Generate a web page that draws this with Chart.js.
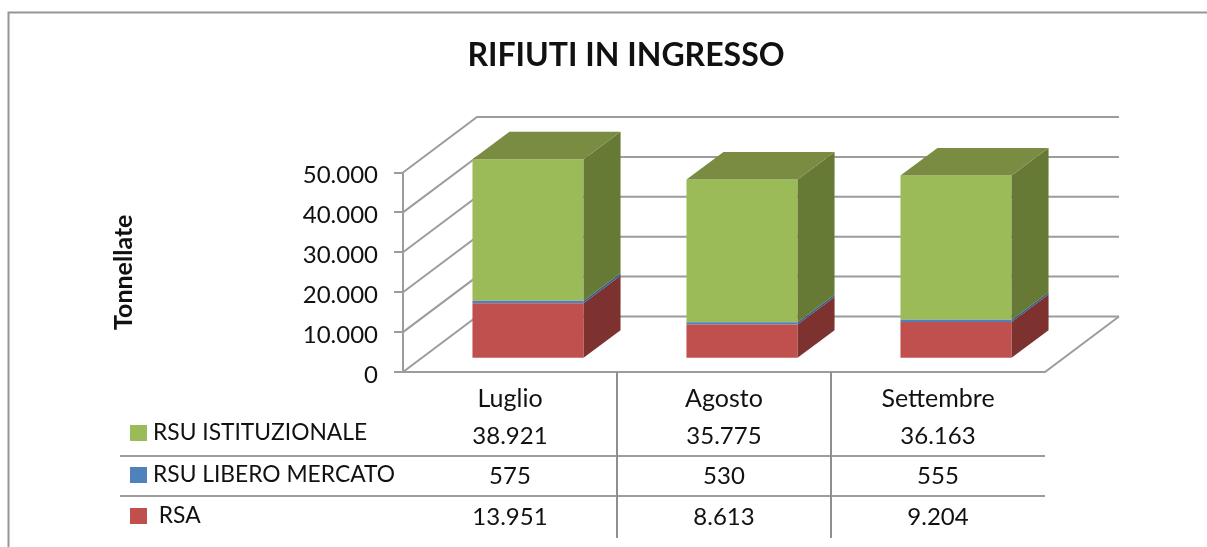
<!DOCTYPE html>
<html>
<head>
<meta charset="utf-8">
<title>Rifiuti in ingresso</title>
<style>
    html, body { margin: 0; padding: 0; background: #fff; overflow: hidden; }
    canvas { display: block; }
</style>
<script src="https://cdn.jsdelivr.net/npm/chart.js@4/dist/chart.umd.min.js"></script>
</head>
<body>
<canvas id="chart" width="1207" height="547"></canvas>
<script>
const categories = ['Luglio', 'Agosto', 'Settembre'];
const rsa = [13951, 8613, 9204];
const rsuLibero = [575, 530, 555];
const rsuIstituzionale = [38921, 35775, 36163];

const LINE = '#9c9c9c';
const TEXT = '#111';
const FONT = 'Lato';

// floor depth of the 3D box, the bars stand partway into it
const WALL_DX = 74, WALL_DY = -55.5;
const BAR_DX = 37, BAR_DY = -27.5;
const SHIFT_X = 18, SHIFT_Y = -13.2;

function formatNumber(v) {
    return String(v).replace(/\B(?=(\d{3})+$)/g, '.');
}

function drawLine(ctx, points, color, width) {
    ctx.beginPath();
    points.forEach((p, i) => i ? ctx.lineTo(p[0], p[1]) : ctx.moveTo(p[0], p[1]));
    ctx.strokeStyle = color;
    ctx.lineWidth = width;
    ctx.stroke();
}

function fillPoly(ctx, points, color) {
    ctx.beginPath();
    points.forEach((p, i) => i ? ctx.lineTo(p[0], p[1]) : ctx.moveTo(p[0], p[1]));
    ctx.closePath();
    ctx.fillStyle = color;
    ctx.fill();
}

const box3d = {
    id: 'box3d',
    afterLayout(chart) {
        // title is centered on the plot side of the frame, not on the canvas
        chart.titleBlock.left += 51;
        chart.titleBlock.right += 51;
        // Lato sits high in its box, push the axis numbers down a bit
        chart.scales.y.getLabelItems().forEach(item => { item.textOffset = 3; });
    },
    beforeDatasetsDraw(chart) {
        const ctx = chart.ctx;
        const area = chart.chartArea;
        const y = chart.scales.y;

        // side wall and back wall lines
        y.ticks.forEach(t => {
            const py = y.getPixelForValue(t.value);
            drawLine(ctx, [
                [area.left, py],
                [area.left + WALL_DX, py + WALL_DY],
                [area.right + WALL_DX, py + WALL_DY]
            ], LINE, 2);
        });
        // floor edge
        drawLine(ctx, [
            [area.left, area.bottom],
            [area.right, area.bottom],
            [area.right + WALL_DX, area.bottom + WALL_DY]
        ], LINE, 2);

        ctx.save();
        ctx.translate(SHIFT_X, SHIFT_Y);
    },
    afterDatasetsDraw(chart) {
        const ctx = chart.ctx;
        const area = chart.chartArea;
        const last = chart.data.datasets.length - 1;

        chart.data.datasets.forEach((ds, i) => {
            chart.getDatasetMeta(i).data.forEach(bar => {
                const top = Math.max(bar.y, area.top);
                const base = Math.max(bar.base, area.top);
                const l = bar.x - bar.width / 2;
                const r = bar.x + bar.width / 2;
                fillPoly(ctx, [
                    [r, top], [r + BAR_DX, top + BAR_DY],
                    [r + BAR_DX, base + BAR_DY], [r, base]
                ], ds.sideColor);
                if (i === last) {
                    fillPoly(ctx, [
                        [l, top], [l + BAR_DX, top + BAR_DY],
                        [r + BAR_DX, top + BAR_DY], [r, top]
                    ], ds.topColor);
                }
            });
        });
        ctx.restore();
    },
    afterDraw(chart) {
        const ctx = chart.ctx;
        const area = chart.chartArea;
        const x = chart.scales.x;

        // frame: only left and top edges are in the picture
        drawLine(ctx, [[8.5, 547], [8.5, 12.5], [1207, 12.5]], '#969696', 2);

        // data table grid
        [456, 496].forEach(py => drawLine(ctx, [[120, py], [area.right, py]], LINE, 2));
        [1, 2].forEach(k => {
            const px = area.left + (area.right - area.left) * k / categories.length;
            drawLine(ctx, [[px, area.bottom], [px, 538]], '#8f8f8f', 2);
        });

        // data table rows, top row is the top of the stack
        const rows = [
            { ds: chart.data.datasets[2], y: 433, numY: 436 },
            { ds: chart.data.datasets[1], y: 475, numY: 476 },
            { ds: chart.data.datasets[0], y: 516, numY: 517 }
        ];
        ctx.textBaseline = 'middle';
        rows.forEach(row => {
            ctx.fillStyle = row.ds.backgroundColor;
            ctx.fillRect(130, row.y - 8, 17, 16);
            ctx.fillStyle = TEXT;
            ctx.font = '22.8px ' + FONT;
            ctx.textAlign = 'left';
            ctx.fillText(row.ds.label, 153, row.y);
            ctx.font = '24px ' + FONT;
            ctx.textAlign = 'center';
            row.ds.data.forEach((v, j) => {
                ctx.fillText(formatNumber(v), x.getPixelForTick(j), row.numY);
            });
        });
    }
};

new Chart(document.getElementById('chart'), {
    type: 'bar',
    data: {
        labels: categories,
        datasets: [
            { label: ' RSA', data: rsa, backgroundColor: '#c0504d', sideColor: '#7d3230', topColor: '#9a403e' },
            { label: 'RSU LIBERO MERCATO', data: rsuLibero, backgroundColor: '#4f81bd', sideColor: '#3a5f8c', topColor: '#41699a' },
            { label: 'RSU ISTITUZIONALE', data: rsuIstituzionale, backgroundColor: '#9bbb59', sideColor: '#667a35', topColor: '#7a8c42' }
        ]
    },
    plugins: [box3d],
    options: {
        responsive: false,
        animation: false,
        layout: { padding: { left: 105, right: 162, top: 0, bottom: 0 } },
        datasets: { bar: { categoryPercentage: 1, barPercentage: 0.519, borderWidth: 0 } },
        plugins: {
            legend: { display: false },
            tooltip: { enabled: false },
            title: {
                display: true,
                text: 'RIFIUTI IN INGRESSO',
                color: TEXT,
                font: { family: FONT, size: 32, weight: 'bold' },
                padding: { top: 36, bottom: 98.1 }
            }
        },
        scales: {
            x: {
                stacked: true,
                afterFit(s) { s.height = 175; },
                grid: { display: false },
                border: { display: false },
                ticks: { color: TEXT, font: { family: FONT, size: 25 }, padding: 4, maxRotation: 0 }
            },
            y: {
                stacked: true,
                min: 0,
                max: 50000,
                afterFit(s) { s.width = 298; },
                grid: { drawOnChartArea: false, drawTicks: true, tickLength: 9, color: LINE, lineWidth: 2 },
                border: { display: true, color: LINE, width: 2 },
                ticks: {
                    stepSize: 10000,
                    color: TEXT,
                    padding: 16,
                    font: { family: FONT, size: 24 },
                    callback: v => formatNumber(v)
                },
                title: {
                    display: true,
                    text: 'Tonnellate',
                    color: TEXT,
                    font: { family: FONT, size: 25, weight: 'bold' },
                    padding: { top: 4, bottom: 0 }
                }
            }
        }
    }
});
</script>
</body>
</html>
